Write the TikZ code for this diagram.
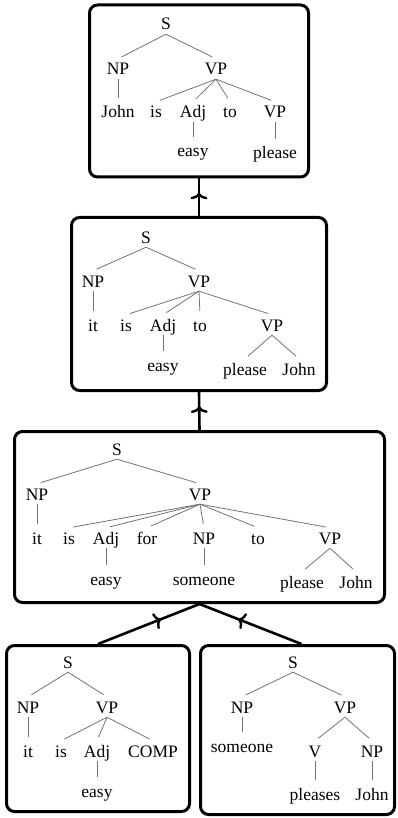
\documentclass[tikz,border=0pt]{standalone}
\usepackage{fontspec}
\setmainfont{Liberation Serif}
\usetikzlibrary{arrows.meta,decorations.markings,calc}
\tikzset{
  t/.style={font=\fontsize{17.5}{20}\selectfont, inner xsep=0pt, inner ysep=4pt,
            text height=12pt, text depth=0pt, anchor=base},
  e/.style={draw=black!55, line width=0.8pt, shorten >=4pt},
  box/.style={draw=black, line width=3pt, rounded corners=8pt},
  conn/.style={draw=black, line width=2.6pt, postaction={decorate},
    decoration={markings, mark=at position 0.62 with
      {\arrow{Computer Modern Rightarrow[length=6.5pt, width=17pt, line width=2.4pt]}}}}
}
\begin{document}
\begin{tikzpicture}[x=1pt,y=-1pt]
\useasboundingbox (0,0) rectangle (397,818);

% boxes
\node[box, minimum width=219pt, minimum height=172pt] (B1) at (199,91) {};
\node[box, minimum width=255pt, minimum height=173pt] (B2) at (199,304) {};
\node[box, minimum width=370pt, minimum height=171pt] (B3) at (199.5,517) {};
\node[box, minimum width=183pt, minimum height=166pt] (B4) at (98,728.5) {};
\node[box, minimum width=194pt, minimum height=169pt] (B5) at (297.5,730) {};
\coordinate (B5top) at ($(B5.north)+(4,0)$);

% connectors
\draw[conn] (B2.north) -- (B1.south);
\draw[conn] (B3.north) -- (B2.south);
\draw[conn] (B4.north) -- (B3.south);
\draw[conn] (B5top) -- (B3.south);

% ---- tree 1
\node[t] (a-S) at (166,30) {S};
\node[t] (a-NP) at (118,75) {NP};
\node[t] (a-VP) at (216,75) {VP};
\node[t] (a-John) at (118,118) {John};
\node[t] (a-is) at (156,118) {is};
\node[t] (a-Adj) at (193,118) {Adj};
\node[t] (a-to) at (230,118) {to};
\node[t] (a-VP2) at (275,118) {VP};
\node[t] (a-easy) at (193,157) {easy};
\node[t] (a-please) at (275,159) {please};
\draw[e] (a-S.south) -- (a-NP.north);
\draw[e] (a-S.south) -- (a-VP.north);
\draw[e] (a-NP.south) -- (a-John.north);
\foreach \c in {is,Adj,to,VP2} \draw[e] (a-VP.south) -- (a-\c.north);
\draw[e] (a-Adj.south) -- (a-easy.north);
\draw[e] (a-VP2.south) -- (a-please.north);

% ---- tree 2
\node[t] (b-S) at (146,243) {S};
\node[t] (b-NP) at (93,287) {NP};
\node[t] (b-VP) at (199,287) {VP};
\node[t] (b-it) at (93,331) {it};
\node[t] (b-is) at (126,331) {is};
\node[t] (b-Adj) at (163,331) {Adj};
\node[t] (b-to) at (200,331) {to};
\node[t] (b-VP2) at (272,331) {VP};
\node[t] (b-easy) at (163,371) {easy};
\node[t] (b-please) at (245,375) {please};
\node[t] (b-John) at (299,375) {John};
\draw[e] (b-S.south) -- (b-NP.north);
\draw[e] (b-S.south) -- (b-VP.north);
\draw[e] (b-NP.south) -- (b-it.north);
\foreach \c in {is,Adj,to,VP2} \draw[e] (b-VP.south) -- (b-\c.north);
\draw[e] (b-Adj.south) -- (b-easy.north);
\draw[e] (b-VP2.south) -- (b-please.north);
\draw[e] (b-VP2.south) -- (b-John.north);

% ---- tree 3
\node[t] (c-S) at (117,455) {S};
\node[t] (c-NP) at (37,500) {NP};
\node[t] (c-VP) at (200,500) {VP};
\node[t] (c-it) at (37,544) {it};
\node[t] (c-is) at (69,544) {is};
\node[t] (c-Adj) at (106,544) {Adj};
\node[t] (c-for) at (147,544) {for};
\node[t] (c-NP2) at (204,544) {NP};
\node[t] (c-to) at (258,544) {to};
\node[t] (c-VP2) at (330,544) {VP};
\node[t] (c-easy) at (106,585) {easy};
\node[t] (c-someone) at (204,585) {someone};
\node[t] (c-please) at (302,588) {please};
\node[t] (c-John) at (356,588) {John};
\draw[e] (c-S.south) -- (c-NP.north);
\draw[e] (c-S.south) -- (c-VP.north);
\draw[e] (c-NP.south) -- (c-it.north);
\foreach \c in {is,Adj,for,NP2,to,VP2} \draw[e] (c-VP.south) -- (c-\c.north);
\draw[e] (c-Adj.south) -- (c-easy.north);
\draw[e] (c-NP2.south) -- (c-someone.north);
\draw[e] (c-VP2.south) -- (c-please.north);
\draw[e] (c-VP2.south) -- (c-John.north);

% ---- tree 4
\node[t] (d-S) at (68,668) {S};
\node[t] (d-NP) at (28,713) {NP};
\node[t] (d-VP) at (107,713) {VP};
\node[t] (d-it) at (28,757) {it};
\node[t] (d-is) at (61,757) {is};
\node[t] (d-Adj) at (97,757) {Adj};
\node[t] (d-COMP) at (153,757) {COMP};
\node[t] (d-easy) at (97,797) {easy};
\draw[e] (d-S.south) -- (d-NP.north);
\draw[e] (d-S.south) -- (d-VP.north);
\draw[e] (d-NP.south) -- (d-it.north);
\foreach \c in {is,Adj,COMP} \draw[e] (d-VP.south) -- (d-\c.north);
\draw[e] (d-Adj.south) -- (d-easy.north);

% ---- tree 5
\node[t] (f-S) at (293,668) {S};
\node[t] (f-NP) at (242,713) {NP};
\node[t] (f-VP) at (345,713) {VP};
\node[t] (f-someone) at (242,752) {someone};
\node[t] (f-V) at (315,757) {V};
\node[t] (f-NP2) at (372,757) {NP};
\node[t] (f-pleases) at (315,800) {pleases};
\node[t] (f-John) at (372,800) {John};
\draw[e] (f-S.south) -- (f-NP.north);
\draw[e] (f-S.south) -- (f-VP.north);
\draw[e] (f-NP.south) -- (f-someone.north);
\draw[e] (f-VP.south) -- (f-V.north);
\draw[e] (f-VP.south) -- (f-NP2.north);
\draw[e] (f-V.south) -- (f-pleases.north);
\draw[e] (f-NP2.south) -- (f-John.north);
\end{tikzpicture}
\end{document}
